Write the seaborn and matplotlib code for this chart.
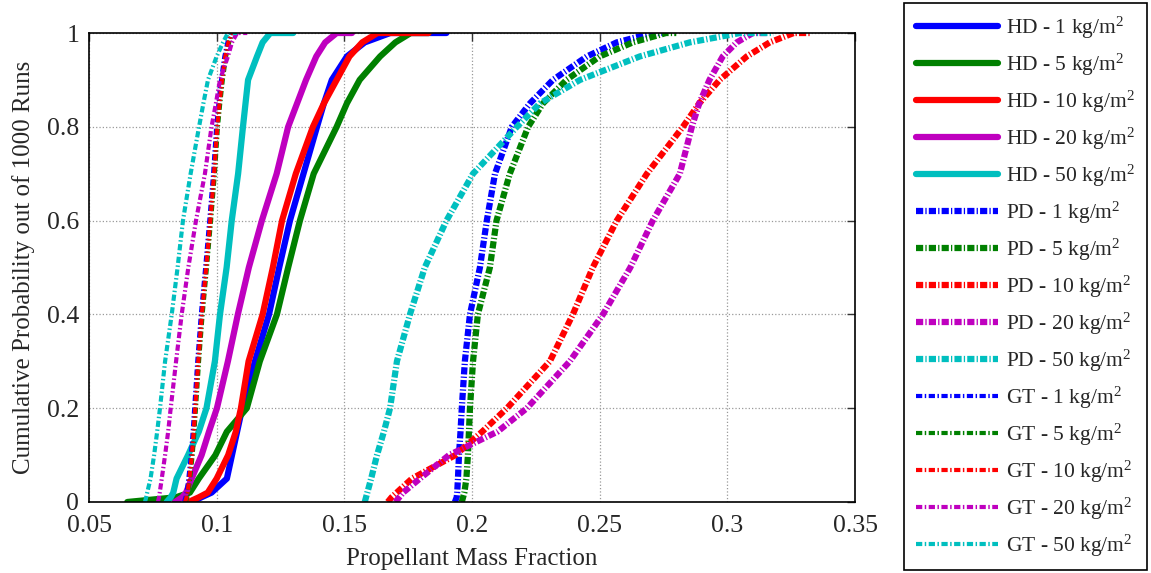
import pandas as pd
import matplotlib
matplotlib.use('Agg')
import matplotlib.pyplot as plt
import seaborn as sns

# cumulative probability levels (out of 1000 runs); the repeated 1.0 is the upper tail
prob = [0, 0.01, 0.02, 0.05, 0.1, 0.15, 0.2, 0.3, 0.4, 0.5, 0.6, 0.7, 0.8, 0.85, 0.9, 0.95, 0.98, 1.0, 1.0]

# propellant mass fraction read at each level
hd_1 = [0.0903, 0.094, 0.098, 0.104, 0.106, 0.108, 0.110, 0.115, 0.1205, 0.1245, 0.1287, 0.134, 0.1393, 0.142, 0.1451, 0.151, 0.158, 0.168, 0.190]
hd_5 = [0.065, 0.084, 0.0895, 0.093, 0.0995, 0.104, 0.1118, 0.1169, 0.1236, 0.128, 0.1326, 0.138, 0.147, 0.151, 0.156, 0.164, 0.170, 0.176, 0.183]
hd_10 = [0.089, 0.093, 0.0965, 0.100, 0.1045, 0.1075, 0.1095, 0.1125, 0.118, 0.122, 0.1256, 0.131, 0.1377, 0.142, 0.147, 0.152, 0.157, 0.163, 0.183]
hd_20 = [0.0837, 0.0865, 0.088, 0.0902, 0.0941, 0.097, 0.1001, 0.1044, 0.1083, 0.1126, 0.1177, 0.1235, 0.128, 0.1315, 0.135, 0.139, 0.1425, 0.147, 0.153]
hd_50 = [0.0804, 0.082, 0.083, 0.0843, 0.0888, 0.093, 0.096, 0.0993, 0.1013, 0.1039, 0.1059, 0.1084, 0.1103, 0.1113, 0.1123, 0.1158, 0.118, 0.121, 0.130]

pd_1 = [0.1933, 0.194, 0.1942, 0.1945, 0.1949, 0.1955, 0.196, 0.1972, 0.1992, 0.2031, 0.2058, 0.209, 0.2156, 0.2227, 0.2317, 0.245, 0.2567, 0.2708, 0.275]
pd_5 = [0.196, 0.1965, 0.197, 0.1978, 0.1984, 0.1988, 0.1992, 0.2004, 0.2023, 0.207, 0.2096, 0.2148, 0.222, 0.2278, 0.237, 0.250, 0.263, 0.276, 0.280]
pd_10 = [0.167, 0.1685, 0.1705, 0.1765, 0.1935, 0.204, 0.2137, 0.2305, 0.2395, 0.2473, 0.2567, 0.2685, 0.2826, 0.289, 0.297, 0.3076, 0.3166, 0.326, 0.333]
pd_20 = [0.170, 0.1715, 0.173, 0.1796, 0.191, 0.210, 0.2215, 0.2383, 0.2513, 0.262, 0.2708, 0.2814, 0.2861, 0.289, 0.293, 0.2982, 0.3037, 0.310, 0.316]
pd_50 = [0.158, 0.1585, 0.159, 0.1605, 0.1628, 0.1655, 0.1679, 0.1706, 0.1757, 0.1815, 0.190, 0.2004, 0.2176, 0.2266, 0.2423, 0.2657, 0.2853, 0.305, 0.318]

gt_1 = [0.0872, 0.0878, 0.0882, 0.0889, 0.0899, 0.0906, 0.0912, 0.0924, 0.0938, 0.0955, 0.0971, 0.0986, 0.0998, 0.1007, 0.1017, 0.103, 0.1042, 0.1055, 0.108]
gt_5 = [0.0879, 0.0885, 0.0889, 0.0896, 0.0906, 0.0913, 0.0919, 0.0931, 0.0945, 0.0962, 0.0978, 0.0993, 0.1005, 0.1014, 0.1024, 0.1037, 0.1049, 0.1062, 0.109]
gt_10 = [0.0876, 0.0882, 0.0886, 0.0893, 0.0903, 0.091, 0.0916, 0.0928, 0.0942, 0.0959, 0.0975, 0.099, 0.1002, 0.1011, 0.1021, 0.1034, 0.1046, 0.1059, 0.1085]
gt_20 = [0.077, 0.0774, 0.0777, 0.0785, 0.0798, 0.081, 0.082, 0.0841, 0.0863, 0.0889, 0.0919, 0.0954, 0.098, 0.0997, 0.1013, 0.1044, 0.106, 0.108, 0.112]
gt_50 = [0.0719, 0.0724, 0.0728, 0.0741, 0.0755, 0.0767, 0.0778, 0.0798, 0.0824, 0.0847, 0.0868, 0.0898, 0.0931, 0.0948, 0.0966, 0.100, 0.1025, 0.1044, 0.108]

series = [hd_1, hd_5, hd_10, hd_20, hd_50, pd_1, pd_5, pd_10, pd_20, pd_50, gt_1, gt_5, gt_10, gt_20, gt_50]
labels = ['HD - 1 kg/m$^2$', 'HD - 5 kg/m$^2$', 'HD - 10 kg/m$^2$', 'HD - 20 kg/m$^2$', 'HD - 50 kg/m$^2$',
          'PD - 1 kg/m$^2$', 'PD - 5 kg/m$^2$', 'PD - 10 kg/m$^2$', 'PD - 20 kg/m$^2$', 'PD - 50 kg/m$^2$',
          'GT - 1 kg/m$^2$', 'GT - 5 kg/m$^2$', 'GT - 10 kg/m$^2$', 'GT - 20 kg/m$^2$', 'GT - 50 kg/m$^2$']

xticks = [0.05, 0.1, 0.15, 0.2, 0.25, 0.3, 0.35]
xticklabels = ['0.05', '0.1', '0.15', '0.2', '0.25', '0.3', '0.35']
yticks = [0, 0.2, 0.4, 0.6, 0.8, 1]
yticklabels = ['0', '0.2', '0.4', '0.6', '0.8', '1']

# matlab-ish colours, one per areal density
colors = ['#0000ff', '#008000', '#ff0000', '#bf00bf', '#00bfbf']

sns.set_style('white')
plt.rcParams['font.family'] = ['Liberation Serif', 'DejaVu Serif']
plt.rcParams['mathtext.default'] = 'regular'

rows = []
for lab, vals in zip(labels, series):
    for x, p in zip(vals, prob):
        rows.append({'pmf': x, 'prob': p, 'run': lab})
df = pd.DataFrame(rows)

fig = plt.figure(figsize=(11.51, 5.73), dpi=100)
ax = fig.add_axes([89 / 1151, 1 - 502 / 573, 766 / 1151, 469 / 573])

for i, lab in enumerate(labels):
    d = df[df['run'] == lab]
    col = colors[i % 5]
    if i < 5:
        sns.lineplot(data=d, x='pmf', y='prob', color=col, lw=4.5, sort=False, estimator=None, label=lab, ax=ax)
    elif i < 10:
        sns.lineplot(data=d, x='pmf', y='prob', color=col, lw=4.5, sort=False, estimator=None, label=lab, ax=ax)
        ax.lines[-1].set_linestyle((0, (1.15, 0.35, 0.2, 0.35)))
    else:
        sns.lineplot(data=d, x='pmf', y='prob', color=col, lw=3.0, sort=False, estimator=None, label=lab, ax=ax)
        ax.lines[-1].set_linestyle((0, (1.5, 0.6, 0.35, 0.6)))
    ax.lines[-1].set_dash_capstyle('butt')

ax.set_xlim(0.05, 0.35)
ax.set_ylim(0, 1)
ax.set_xticks(xticks)
ax.set_xticklabels(xticklabels)
ax.set_yticks(yticks)
ax.set_yticklabels(yticklabels)
ax.tick_params(direction='in', top=True, right=True, length=6, width=1, color='#333333', labelsize=18.5)
ax.tick_params(axis='x', pad=9)
ax.tick_params(axis='y', pad=7)
ax.grid(True, linestyle=':', color='#999999', linewidth=0.9)
for s in ax.spines.values():
    s.set_color('black')
    s.set_linewidth(1.2)

ax.set_xlabel('Propellant Mass Fraction', fontsize=18, labelpad=8)
ax.set_ylabel('Cumulative Probability out of 1000 Runs', fontsize=18, labelpad=9)

handles, labs = ax.get_legend_handles_labels()
leg = ax.legend(handles, labs, loc='upper left', bbox_to_anchor=(904 / 1151, 1 - 3 / 573),
                bbox_transform=fig.transFigure, fontsize=15.5, frameon=True, fancybox=False,
                edgecolor='black', framealpha=1, handlelength=3.8, handletextpad=0.4,
                borderpad=0.55, labelspacing=0.5, borderaxespad=0)
leg.get_frame().set_linewidth(1.2)

fig.savefig('out.png', dpi=100)
